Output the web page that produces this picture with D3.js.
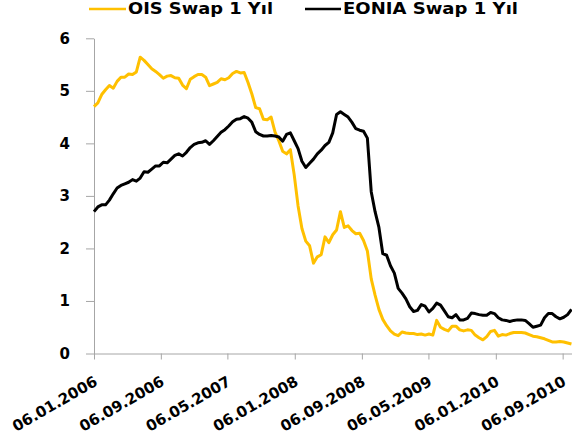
<!DOCTYPE html>
<html>
<head>
<meta charset="utf-8">
<script src="https://cdn.jsdelivr.net/npm/d3@7"></script>
<style>
  body { margin: 0; background: #fff; }
  svg { display: block; }
  text { font-family: "DejaVu Sans", Verdana, sans-serif; font-weight: bold; fill: #000; }
</style>
</head>
<body>
<div id="chart"></div>
<script>
// biweekly observations
const dates = [
  "2006-01-06","2006-01-20","2006-02-03","2006-02-17","2006-03-03","2006-03-17","2006-03-31","2006-04-14","2006-04-28","2006-05-12",
  "2006-05-26","2006-06-09","2006-06-23","2006-07-07","2006-07-21","2006-08-04","2006-08-18","2006-09-01","2006-09-15","2006-09-29",
  "2006-10-13","2006-10-27","2006-11-10","2006-11-24","2006-12-08","2006-12-22","2007-01-05","2007-01-19","2007-02-02","2007-02-16",
  "2007-03-02","2007-03-16","2007-03-30","2007-04-13","2007-04-27","2007-05-11","2007-05-25","2007-06-08","2007-06-22","2007-07-06",
  "2007-07-20","2007-08-03","2007-08-17","2007-08-31","2007-09-14","2007-09-28","2007-10-12","2007-10-26","2007-11-09","2007-11-23",
  "2007-12-07","2007-12-21","2008-01-04","2008-01-18","2008-02-01","2008-02-15","2008-02-29","2008-03-14","2008-03-28","2008-04-11",
  "2008-04-25","2008-05-09","2008-05-23","2008-06-06","2008-06-20","2008-07-04","2008-07-18","2008-08-01","2008-08-15","2008-08-29",
  "2008-09-12","2008-09-26","2008-10-10","2008-10-24","2008-11-07","2008-11-21","2008-12-05","2008-12-19","2009-01-02","2009-01-16",
  "2009-01-30","2009-02-13","2009-02-27","2009-03-13","2009-03-27","2009-04-10","2009-04-24","2009-05-08","2009-05-22","2009-06-05",
  "2009-06-19","2009-07-03","2009-07-17","2009-07-31","2009-08-14","2009-08-28","2009-09-11","2009-09-25","2009-10-09","2009-10-23",
  "2009-11-06","2009-11-20","2009-12-04","2009-12-18","2010-01-01","2010-01-15","2010-01-29","2010-02-12","2010-02-26","2010-03-12",
  "2010-03-26","2010-04-09","2010-04-23","2010-05-07","2010-05-21","2010-06-04","2010-06-18","2010-07-02","2010-07-16","2010-07-30",
  "2010-08-13","2010-08-27","2010-09-10","2010-09-24","2010-10-08"
];

const ois = [
  4.70,4.77,4.93,5.02,5.10,5.05,5.18,5.26,5.26,5.32,
  5.31,5.36,5.64,5.58,5.50,5.42,5.37,5.31,5.24,5.28,
  5.29,5.25,5.24,5.11,5.04,5.22,5.27,5.31,5.31,5.26,
  5.10,5.13,5.16,5.23,5.21,5.25,5.33,5.37,5.34,5.35,
  5.16,4.94,4.68,4.66,4.46,4.45,4.50,4.22,4.05,3.85,
  3.80,3.88,3.40,2.81,2.38,2.14,2.05,1.72,1.84,1.88,
  2.22,2.11,2.26,2.35,2.70,2.40,2.43,2.34,2.28,2.29,
  2.15,1.95,1.42,1.11,0.84,0.65,0.53,0.43,0.37,0.34,
  0.41,0.39,0.38,0.38,0.36,0.37,0.35,0.37,0.35,0.63,
  0.50,0.46,0.43,0.52,0.52,0.45,0.43,0.45,0.44,0.35,
  0.30,0.26,0.32,0.42,0.44,0.33,0.36,0.35,0.38,0.40,
  0.40,0.40,0.39,0.36,0.33,0.32,0.30,0.28,0.25,0.22,
  0.22,0.23,0.22,0.20,0.18
];

const eonia = [
  2.70,2.79,2.83,2.83,2.92,3.04,3.15,3.20,3.23,3.26,
  3.31,3.28,3.34,3.46,3.45,3.51,3.57,3.57,3.64,3.63,
  3.70,3.77,3.80,3.76,3.83,3.92,3.98,4.01,4.02,4.05,
  3.98,4.05,4.13,4.21,4.26,4.33,4.41,4.46,4.47,4.51,
  4.48,4.40,4.22,4.17,4.14,4.14,4.15,4.14,4.12,4.04,
  4.17,4.20,4.05,3.90,3.66,3.54,3.62,3.70,3.80,3.87,
  3.96,4.02,4.20,4.55,4.60,4.55,4.50,4.40,4.28,4.25,
  4.23,4.10,3.08,2.70,2.40,1.90,1.87,1.67,1.53,1.24,
  1.15,1.04,0.89,0.80,0.82,0.93,0.90,0.79,0.86,0.96,
  0.92,0.81,0.70,0.68,0.74,0.64,0.64,0.67,0.77,0.76,
  0.74,0.73,0.73,0.78,0.76,0.68,0.64,0.63,0.61,0.63,
  0.64,0.64,0.63,0.57,0.50,0.52,0.54,0.68,0.76,0.76,
  0.70,0.66,0.69,0.74,0.84
];

const tickLabels = ["06.01.2006","06.09.2006","06.05.2007","06.01.2008","06.09.2008","06.05.2009","06.01.2010","06.09.2010"];
const yTicks = [0, 1, 2, 3, 4, 5, 6];

const width = 572, height = 439;
const margin = { top: 38.3, right: 0, bottom: 85.5, left: 94 };

const parseDay = d3.timeParse("%Y-%m-%d");
const parseLabel = d3.timeParse("%d.%m.%Y");
const fmtLabel = d3.timeFormat("%d.%m.%Y");

const svg = d3.select("#chart").append("svg")
  .attr("width", width)
  .attr("height", height);

const x = d3.scaleTime()
  .domain([parseDay("2006-01-06"), parseDay("2010-10-10")])
  .range([margin.left, width - margin.right]);

const y = d3.scaleLinear()
  .domain([0, 6])
  .range([height - margin.bottom, margin.top]);

// axes
const yAxis = svg.append("g")
  .attr("transform", `translate(${margin.left},0)`)
  .call(d3.axisLeft(y).tickValues(yTicks).tickFormat(d3.format("d"))
    .tickSize(8).tickSizeOuter(0).tickPadding(16));
yAxis.select(".domain").attr("stroke", "#a6a6a6");
yAxis.selectAll(".tick line").attr("stroke", "#a6a6a6");
yAxis.selectAll(".tick text").style("font-size", "15px");

const xAxis = svg.append("g")
  .attr("transform", `translate(0,${y(0)})`)
  .call(d3.axisBottom(x).tickValues(tickLabels.map(parseLabel)).tickFormat(fmtLabel).tickSize(6).tickSizeOuter(0));
xAxis.select(".domain").attr("stroke", "#a6a6a6");
xAxis.selectAll(".tick line").attr("stroke", "#a6a6a6");
xAxis.selectAll(".tick text")
  .style("font-size", "15px")
  .attr("text-anchor", "end")
  .attr("y", null).attr("dy", null)
  .attr("transform", "translate(4,31) rotate(-30)");

// lines
const series = [
  { name: "OIS Swap 1 Yıl", values: ois, color: "#ffc000" },
  { name: "EONIA Swap 1 Yıl", values: eonia, color: "#000000" }
];

const line = d3.line()
  .x((d, i) => x(parseDay(dates[i])))
  .y(d => y(d));

svg.selectAll("path.series")
  .data(series)
  .join("path")
  .attr("class", "series")
  .attr("fill", "none")
  .attr("stroke", d => d.color)
  .attr("stroke-width", 3)
  .attr("stroke-linejoin", "round")
  .attr("d", d => line(d.values));

// legend
const legendPos = [
  { x1: 89, x2: 126, tx: 128, len: 145 },
  { x1: 305, x2: 341, tx: 343, len: 175 }
];
const legend = svg.selectAll("g.legend")
  .data(series)
  .join("g")
  .attr("class", "legend");
legend.append("line")
  .attr("x1", (d, i) => legendPos[i].x1)
  .attr("x2", (d, i) => legendPos[i].x2)
  .attr("y1", 9).attr("y2", 9)
  .attr("stroke", d => d.color)
  .attr("stroke-width", 2.5);
legend.append("text")
  .attr("x", (d, i) => legendPos[i].tx)
  .attr("y", 14)
  .attr("textLength", (d, i) => legendPos[i].len)
  .attr("lengthAdjust", "spacingAndGlyphs")
  .style("font-size", "15px")
  .text(d => d.name);
</script>
</body>
</html>
